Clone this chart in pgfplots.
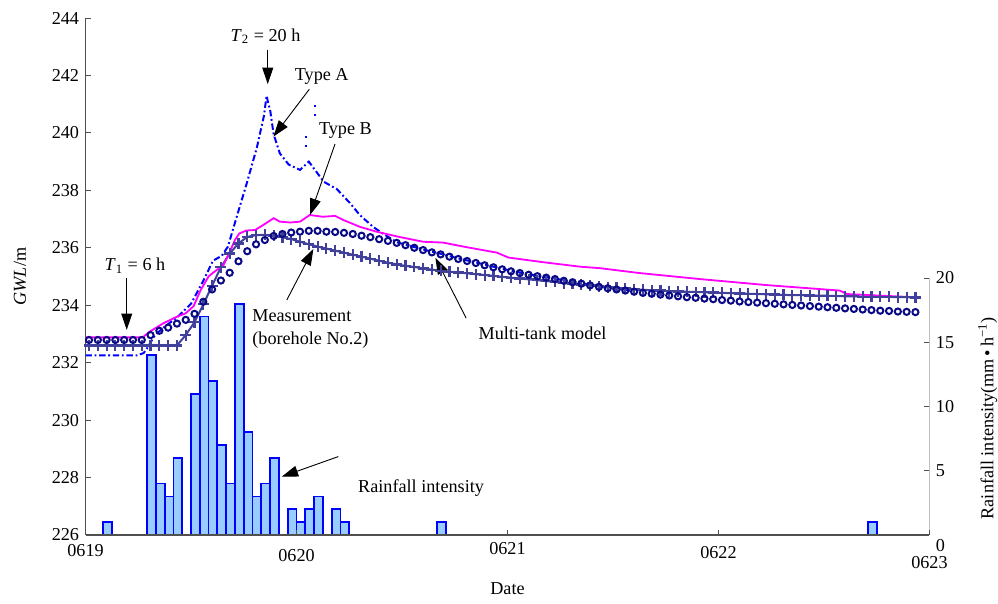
\documentclass[border=0pt]{standalone}
\usepackage{fontspec}
\setmainfont{Liberation Serif}
\usepackage{pgfplots}
\pgfplotsset{compat=1.18}
\usetikzlibrary{arrows.meta}

\definecolor{meas}{RGB}{10,10,135}
\definecolor{tank}{RGB}{65,65,155}
\definecolor{typeA}{RGB}{0,0,255}
\definecolor{typeB}{RGB}{255,0,255}
\definecolor{barfill}{RGB}{153,204,255}
\definecolor{axgray}{RGB}{80,80,80}

% 1 px of the reference = 0.55pt
\pgfplotsset{
  base/.style={scale only axis, width=464.2pt, height=284.35pt,
    xmin=0, xmax=96,
    tick align=inside, major tick length=3pt,
    tick style={axgray, line width=0.5pt},
    axis line style={axgray, line width=0.7pt},
    /pgf/number format/assume math mode=true},
}
\tikzset{ann/.style={-{Triangle[length=9pt,width=6pt]}, line width=0.5pt, black}}

\begin{document}
\begin{tikzpicture}
% rainfall bars, right axis
\begin{axis}[base, ymin=0, ymax=40.23,
  axis x line=none, axis y line*=right,
  y axis line style={draw=none},
  ytick={0,5,10,15,20},
  yticklabels={\raisebox{-9pt}[0pt][0pt]{0},5,10,15,20},
  ylabel={Rainfall intensity(mm\,\textbullet\,h\textsuperscript{−1})},
  every axis y label/.style={at={(axis description cs:1.069,0.226)}, anchor=center, rotate=90},
]
\addplot[ybar, bar width=1, bar shift=0pt, fill=barfill, draw=typeA, line width=1pt] coordinates {
  (2.5,1) (7.5,14) (8.5,4) (9.5,3) (10.5,6)
  (12.5,11) (13.5,17) (14.5,12) (15.5,7) (16.5,4) (17.5,18) (18.5,8) (19.5,3) (20.5,4) (21.5,6)
  (23.5,2) (24.5,1) (25.5,2) (26.5,3) (28.5,2) (29.5,1) (40.5,1) (89.5,1)
};
\draw[axgray, line width=0.7pt] (axis cs:96,0) -- (axis cs:96,20);
\end{axis}

% groundwater levels, left axis
\begin{axis}[base, name=main, ymin=226, ymax=244,
  axis x line*=bottom, axis y line*=left, clip=false,
  xtick={0,24,48,72,96},
  xticklabels={\rule{0pt}{8.5pt}0619,\rule{0pt}{11pt}0620,\rule{0pt}{7pt}0621,\rule{0pt}{9.2pt}0622,\rule{0pt}{14.7pt}0623},
  ytick={226,228,...,244},
  xlabel={Date}, ylabel={\textit{GWL}/m},
  every axis x label/.style={at={(axis description cs:0.5,-0.092)}, anchor=north, inner sep=0pt},
  every axis y label/.style={at={(axis description cs:-0.0776,0.5)}, anchor=center, rotate=90},
]
% multi-tank model
\addplot[tank, line width=1.1pt, mark=+, mark size=3pt, mark options={line width=1.2pt}] coordinates {
  (0.4,232.60) (1.4,232.60) (2.4,232.60) (3.4,232.60) (4.4,232.60) (5.4,232.60) (6.4,232.60)
  (7.4,232.60) (8.4,232.60) (9.4,232.60) (10.4,232.60) (11.4,232.96) (12.4,233.41) (13.4,234.03)
  (14.4,234.68) (15.4,235.32) (16.4,235.80) (17.4,236.15) (18.4,236.38) (19.4,236.44) (20.4,236.45)
  (21.4,236.42) (22.4,236.37) (23.4,236.30) (24.4,236.21) (25.4,236.12) (26.4,236.04) (27.4,235.97)
  (28.4,235.90) (29.4,235.83) (30.4,235.76) (31.4,235.69) (32.4,235.62) (33.4,235.55) (34.4,235.48)
  (35.4,235.42) (36.4,235.37) (37.4,235.33) (38.4,235.28) (39.4,235.24) (40.4,235.20) (41.4,235.17)
  (42.4,235.14) (43.4,235.11) (44.4,235.08) (45.4,235.05) (46.4,235.02) (47.4,234.99) (48.4,234.96)
  (49.4,234.93) (50.4,234.90) (51.4,234.87) (52.4,234.84) (53.4,234.81) (54.4,234.77) (55.4,234.74)
  (56.4,234.71) (57.4,234.69) (58.4,234.66) (59.4,234.63) (60.4,234.61) (61.4,234.58) (62.4,234.56)
  (63.4,234.54) (64.4,234.52) (65.4,234.51) (66.4,234.49) (67.4,234.48) (68.4,234.47) (69.4,234.46)
  (70.4,234.45) (71.4,234.44) (72.4,234.43) (73.4,234.42) (74.4,234.41) (75.4,234.40) (76.4,234.39)
  (77.4,234.38) (78.4,234.37) (79.4,234.36) (80.4,234.35) (81.4,234.35) (82.4,234.34) (83.4,234.33)
  (84.4,234.33) (85.4,234.32) (86.4,234.31) (87.4,234.31) (88.4,234.30) (89.4,234.30) (90.4,234.29)
  (91.4,234.29) (92.4,234.28) (93.4,234.28) (94.4,234.27)
};
% type A
\addplot[typeA, line width=1.1pt, dash pattern=on 3.5pt off 1.5pt on 1pt off 1.5pt] coordinates {
  (0,232.25) (5.8,232.25) (6.6,232.33) (7.0,232.50) (7.9,232.96) (9,233.25) (10.5,233.60)
  (12,234.05) (13.4,234.85) (14.5,235.55) (15.5,235.72) (16.2,236.04) (17.2,237.08) (18.3,238.20)
  (19.5,239.50) (20.3,240.60) (20.6,241.30) (20.8,241.00) (21.0,240.80) (21.4,239.95) (22.1,239.29)
  (23.1,238.90) (24.4,238.71) (25.4,239.00) (26.1,238.71) (27.1,238.30) (28.6,238.04) (30.1,237.55)
  (31.2,237.14) (32.7,236.73) (33.7,236.52) (35.4,236.19) (36.4,236.11) (38.4,235.94) (40.4,235.79)
  (42.4,235.63) (44.4,235.49) (46.4,235.34) (48.4,235.20) (50.4,235.08) (52.4,234.98) (54.4,234.87)
  (56.4,234.77) (58.4,234.66) (60.4,234.57) (62.4,234.49)
};
\addplot[typeA, line width=1pt] coordinates {(25.95,240.94) (26.25,240.94)};
\addplot[typeA, line width=1pt] coordinates {(25.95,240.63) (26.25,240.63)};
\addplot[typeA, line width=1pt] coordinates {(24.95,239.85) (25.25,239.85)};
\addplot[typeA, line width=1pt] coordinates {(24.95,239.54) (25.25,239.54)};
% measurement
\addplot[meas, only marks, mark=o, mark size=1.7pt, mark options={line width=1.1pt}] coordinates {
  (0.4,232.79) (1.4,232.79) (2.4,232.79) (3.4,232.79) (4.4,232.79) (5.4,232.79) (6.4,232.79)
  (7.4,232.96) (8.4,233.11) (9.4,233.22) (10.4,233.36) (11.4,233.49) (12.4,233.70) (13.4,234.12)
  (14.4,234.55) (15.4,234.86) (16.4,235.13) (17.4,235.53) (18.4,235.88) (19.4,236.12) (20.4,236.27)
  (21.4,236.41) (22.4,236.48) (23.4,236.53) (24.4,236.56) (25.4,236.59) (26.4,236.59) (27.4,236.56)
  (28.4,236.55) (29.4,236.52) (30.4,236.48) (31.4,236.42) (32.4,236.37) (33.4,236.30) (34.4,236.24)
  (35.4,236.17) (36.4,236.09) (37.4,236.00) (38.4,235.92) (39.4,235.84) (40.4,235.77) (41.4,235.69)
  (42.4,235.61) (43.4,235.54) (44.4,235.47) (45.4,235.39) (46.4,235.32) (47.4,235.25) (48.4,235.18)
  (49.4,235.12) (50.4,235.06) (51.4,235.01) (52.4,234.96) (53.4,234.91) (54.4,234.85) (55.4,234.80)
  (56.4,234.75) (57.4,234.69) (58.4,234.64) (59.4,234.59) (60.4,234.55) (61.4,234.51) (62.4,234.47)
  (63.4,234.43) (64.4,234.40) (65.4,234.37) (66.4,234.34) (67.4,234.31) (68.4,234.28) (69.4,234.26)
  (70.4,234.23) (71.4,234.21) (72.4,234.18) (73.4,234.16) (74.4,234.13) (75.4,234.11) (76.4,234.09)
  (77.4,234.07) (78.4,234.05) (79.4,234.03) (80.4,234.01) (81.4,233.99) (82.4,233.97) (83.4,233.95)
  (84.4,233.93) (85.4,233.91) (86.4,233.89) (87.4,233.87) (88.4,233.85) (89.4,233.83) (90.4,233.81)
  (91.4,233.80) (92.4,233.78) (93.4,233.77) (94.4,233.76)
};
% type B
\addplot[typeB, line width=1pt] coordinates {
  (0,232.88) (6.5,232.88) (7.3,233.08) (8.85,233.37) (10.4,233.60) (11.4,233.72) (12.3,233.97)
  (13.1,234.53) (14,235.00) (14.5,235.13) (15.7,235.40) (16.25,235.75) (17,236.27) (17.5,236.50)
  (18.3,236.60) (19.3,236.62) (20.2,236.79) (21.4,237.03) (22.1,236.91) (23.3,236.88) (24.4,236.91)
  (25.5,237.14) (27,237.08) (28.4,237.11) (29.3,236.97) (31.2,236.73) (33.1,236.56) (35.8,236.37)
  (38.4,236.21) (40.7,236.18) (43,236.04) (46.8,235.83) (48.1,235.66) (52,235.50) (56.3,235.34)
  (58.5,235.29) (63,235.12) (69.9,234.91) (77.5,234.70) (85.8,234.51) (86.6,234.39) (92.7,234.30)
  (94.4,234.28)
};
% annotations
\node[inner sep=0pt] at (axis cs:20.48,243.37) {\textit{T}\textsubscript{2} = 20 h};
\draw[ann] (axis cs:20.73,242.9) -- (axis cs:20.73,241.7);
\node[inner sep=0pt] at (axis cs:26.87,241.98) {Type A};
\draw[ann] (axis cs:25.46,241.52) -- (axis cs:21.37,239.87);
\node[inner sep=0pt] at (axis cs:29.56,240.07) {Type B};
\draw[ann] (axis cs:28.38,239.61) -- (axis cs:25.54,237.14);
\node[inner sep=0pt] at (axis cs:5.63,235.37) {\textit{T}\textsubscript{1} = 6 h};
\draw[ann] (axis cs:4.69,234.94) -- (axis cs:4.69,233.14);
\node[inner sep=0pt, anchor=north west, align=left] at (axis cs:18.94,233.87) {Measurement\\[1pt](borehole No.2)};
\draw[ann] (axis cs:22.89,234.18) -- (axis cs:25.92,235.96);
\node[inner sep=0pt] at (axis cs:51.99,233.03) {Multi-tank model};
\draw[ann] (axis cs:43.3,233.55) -- (axis cs:39.8,235.65);
\node[inner sep=0pt] at (axis cs:38.17,227.64) {Rainfall intensity};
\draw[ann] (axis cs:28.76,228.73) -- (axis cs:22.32,228.03);
\end{axis}
\pgfresetboundingbox
\path[use as bounding box] ([shift={(-47.03pt,-37.95pt)}]main.south west) rectangle ([shift={(501.88pt,294.25pt)}]main.south west);
\end{tikzpicture}
\end{document}
